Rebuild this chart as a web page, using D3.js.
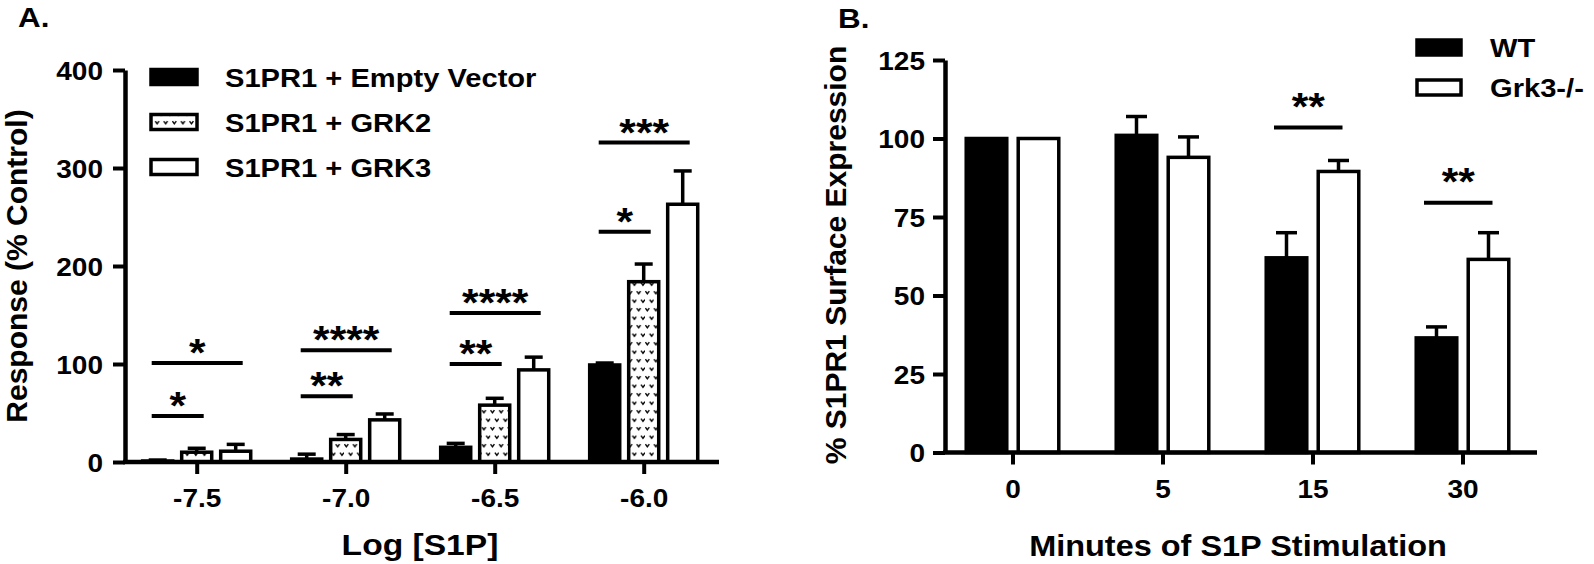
<!DOCTYPE html>
<html>
<head>
<meta charset="utf-8">
<script src="https://cdn.jsdelivr.net/npm/d3@7"></script>
<style>
html,body{margin:0;padding:0;background:#fff;}
svg{display:block;}
</style>
</head>
<body>
<svg id="chart" width="1594" height="564"></svg>
<script>
// ---------- Panel A data ----------
const catA = ["-7.5", "-7.0", "-6.5", "-6.0"];
const seriesA = ["S1PR1 + Empty Vector", "S1PR1 + GRK2", "S1PR1 + GRK3"];
const emptyMean = [1, 3, 15, 99];
const emptyErr  = [1, 5, 4, 2];
const grk2Mean  = [10, 23, 58, 184];
const grk2Err   = [4, 5, 7, 18];
const grk3Mean  = [11, 43, 94, 263];
const grk3Err   = [7, 6, 13, 34];
const yTicksA   = [0, 100, 200, 300, 400];
// significance brackets (panel A)
const sigCatA   = ["-7.5", "-7.5", "-7.0", "-7.0", "-6.5", "-6.5", "-6.0", "-6.0"];
const sigToA    = [1, 2, 1, 2, 1, 2, 1, 2];
const sigValA   = [47, 101, 67, 114, 100, 152, 235, 326];
const sigLabelA = ["*", "*", "**", "****", "**", "****", "*", "***"];

// ---------- Panel B data ----------
const catB = ["0", "5", "15", "30"];
const seriesB = ["WT", "Grk3-/-"];
const wtMean   = [100, 101, 62, 36.5];
const wtErr    = [0, 6, 8, 3.5];
const grk3Bmean = [100, 94, 89.5, 61.5];
const grk3Berr  = [0, 6.5, 3.5, 8.5];
const yTicksB   = [0, 25, 50, 75, 100, 125];
const sigCatB   = ["15", "30"];
const sigValB   = [103.5, 79.5];
const sigLabelB = ["**", "**"];

// ---------- setup ----------
const SX = 1.12; // horizontal stretch of the original typography
const svg = d3.select("#chart")
  .attr("font-family", "'Liberation Sans', Arial, Helvetica, sans-serif")
  .attr("font-weight", "bold");

const defs = svg.append("defs");
const pat = defs.append("pattern").attr("id", "dots")
  .attr("patternUnits", "userSpaceOnUse").attr("width", 8.6).attr("height", 17);
pat.append("rect").attr("width", 8.6).attr("height", 17).attr("fill", "#fff");
[[2.3, 3.5], [6.6, 12]].forEach(([cx, cy]) => {
  pat.append("path").attr("d", `M${cx-1.9},${cy-1.3}L${cx},${cy+1.4}L${cx+1.9},${cy-1.3}`)
    .attr("fill", "none").attr("stroke", "#000").attr("stroke-width", 1.4);
});

function htext(g, x, y, str, size, anchor) {
  return g.append("text")
    .attr("transform", `translate(${x},${y}) scale(${SX},1)`)
    .attr("text-anchor", anchor || "middle")
    .attr("font-size", size)
    .attr("fill", "#000")
    .text(str);
}

function styleAxis(g, sw) {
  g.selectAll("path.domain").attr("stroke", "#000").attr("stroke-width", sw);
  g.selectAll(".tick line").attr("stroke", "#000").attr("stroke-width", 4);
}

// ================= PANEL A =================
const gA = svg.append("g");
const xA = d3.scalePoint().domain(catA).range([196.7, 643.7]);
const yA = d3.scaleLinear().domain([0, 400]).range([462, 70]);
const innerA = d3.scaleBand().domain(seriesA).range([-58.5, 58.5]).paddingInner(0.23).paddingOuter(0.115);
const fillsA = ["#000", "url(#dots)", "#fff"];
const meansA = [emptyMean, grk2Mean, grk3Mean];
const errsA = [emptyErr, grk2Err, grk3Err];
const bwA = innerA.bandwidth();

seriesA.forEach((s, si) => {
  catA.forEach((c, ci) => {
    const m = meansA[si][ci], e = errsA[si][ci];
    const x0 = xA(c) + innerA(s);
    const cx = x0 + bwA / 2;
    // error bar (upper only)
    gA.append("line").attr("x1", cx).attr("x2", cx)
      .attr("y1", yA(m)).attr("y2", yA(m + e))
      .attr("stroke", "#000").attr("stroke-width", 3.5);
    gA.append("line").attr("x1", cx - 9).attr("x2", cx + 9)
      .attr("y1", yA(m + e)).attr("y2", yA(m + e))
      .attr("stroke", "#000").attr("stroke-width", 3.5);
    gA.append("rect").attr("x", x0).attr("y", yA(m))
      .attr("width", bwA).attr("height", Math.max(0, yA(0) - yA(m)))
      .attr("fill", fillsA[si]).attr("stroke", "#000").attr("stroke-width", 3.5);
  });
});

// y axis
const yAxA = gA.append("g").attr("transform", "translate(125,0)")
  .call(d3.axisLeft(yA).tickValues(yTicksA).tickSize(12).tickSizeOuter(0).tickFormat(d3.format("d")));
styleAxis(yAxA, 4.5);
yAxA.selectAll(".tick text").attr("font-size", 25).attr("fill", "#000")
  .attr("font-family", null)
  .attr("transform", `scale(${SX},1)`).attr("x", -22 / SX).attr("dy", null).attr("y", 9);

// x baseline + axis ticks
gA.append("line").attr("x1", 123).attr("x2", 719).attr("y1", yA(0)).attr("y2", yA(0))
  .attr("stroke", "#000").attr("stroke-width", 4.5);
const xAxA = gA.append("g").attr("transform", `translate(0,${yA(0)})`)
  .call(d3.axisBottom(xA).tickSize(12).tickSizeOuter(0));
xAxA.select("path.domain").remove();
styleAxis(xAxA, 4.5);
xAxA.selectAll(".tick text").attr("font-size", 25).attr("fill", "#000")
  .attr("font-family", null)
  .attr("transform", `scale(${SX},1)`).attr("dy", null).attr("y", 45);

// significance
sigCatA.forEach((c, i) => {
  const xs = xA(c) + innerA(seriesA[0]) + bwA / 2 - 6;
  const xe = xA(c) + innerA(seriesA[sigToA[i]]) + bwA / 2 + 7;
  const yy = yA(sigValA[i]);
  gA.append("line").attr("x1", xs).attr("x2", xe).attr("y1", yy).attr("y2", yy)
    .attr("stroke", "#000").attr("stroke-width", 4);
  htext(gA, (xs + xe) / 2, yy + 3, sigLabelA[i], 38, "middle");
});

// legend A
const legRowsA = [77, 122, 167];
seriesA.forEach((s, i) => {
  gA.append("rect").attr("x", 151).attr("y", legRowsA[i] - 7.5).attr("width", 46).attr("height", 15)
    .attr("fill", fillsA[i]).attr("stroke", "#000").attr("stroke-width", 3.5);
  htext(gA, 225, legRowsA[i] + 9.5, s, 26, "start");
});

// titles A
htext(gA, 18, 27, "A.", 28, "start");
htext(gA, 420, 555, "Log [S1P]", 30, "middle");
gA.append("text").attr("transform", "translate(27,266) rotate(-90)")
  .attr("text-anchor", "middle").attr("font-size", 30).text("Response (% Control)");

// ================= PANEL B =================
const gB = svg.append("g");
const xB = d3.scalePoint().domain(catB).range([1012.5, 1462.5]);
const yB = d3.scaleLinear().domain([0, 125]).range([452.5, 60]);
const innerB = d3.scaleBand().domain(seriesB).range([-52, 52]).paddingInner(0.22).paddingOuter(0.11);
const fillsB = ["#000", "#fff"];
const meansB = [wtMean, grk3Bmean];
const errsB = [wtErr, grk3Berr];
const bwB = innerB.bandwidth();

seriesB.forEach((s, si) => {
  catB.forEach((c, ci) => {
    const m = meansB[si][ci], e = errsB[si][ci];
    const x0 = xB(c) + innerB(s);
    const cx = x0 + bwB / 2;
    if (e > 0) {
      gB.append("line").attr("x1", cx).attr("x2", cx)
        .attr("y1", yB(m)).attr("y2", yB(m + e))
        .attr("stroke", "#000").attr("stroke-width", 3.5);
      gB.append("line").attr("x1", cx - 10.5).attr("x2", cx + 10.5)
        .attr("y1", yB(m + e)).attr("y2", yB(m + e))
        .attr("stroke", "#000").attr("stroke-width", 3.5);
    }
    gB.append("rect").attr("x", x0).attr("y", yB(m))
      .attr("width", bwB).attr("height", Math.max(0, yB(0) - yB(m)))
      .attr("fill", fillsB[si]).attr("stroke", "#000").attr("stroke-width", 3.5);
  });
});

const yAxB = gB.append("g").attr("transform", "translate(945,0)")
  .call(d3.axisLeft(yB).tickValues(yTicksB).tickSize(12).tickSizeOuter(0).tickFormat(d3.format("d")));
styleAxis(yAxB, 4.5);
yAxB.selectAll(".tick text").attr("font-size", 25).attr("fill", "#000")
  .attr("font-family", null)
  .attr("transform", `scale(${SX},1)`).attr("x", -20 / SX).attr("dy", null).attr("y", 9);

gB.append("line").attr("x1", 943).attr("x2", 1537).attr("y1", yB(0)).attr("y2", yB(0))
  .attr("stroke", "#000").attr("stroke-width", 4.5);
const xAxB = gB.append("g").attr("transform", `translate(0,${yB(0)})`)
  .call(d3.axisBottom(xB).tickSize(12).tickSizeOuter(0));
xAxB.select("path.domain").remove();
styleAxis(xAxB, 4.5);
xAxB.selectAll(".tick text").attr("font-size", 25).attr("fill", "#000")
  .attr("font-family", null)
  .attr("transform", `scale(${SX},1)`).attr("dy", null).attr("y", 46);

sigCatB.forEach((c, i) => {
  const xs = xB(c) + innerB(seriesB[0]) + bwB / 2 - 12.5;
  const xe = xB(c) + innerB(seriesB[1]) + bwB / 2 + 4;
  const yy = yB(sigValB[i]);
  gB.append("line").attr("x1", xs).attr("x2", xe).attr("y1", yy).attr("y2", yy)
    .attr("stroke", "#000").attr("stroke-width", 4);
  htext(gB, (xs + xe) / 2, yy - 7.5, sigLabelB[i], 38, "middle");
});

const legRowsB = [47.5, 87.5];
seriesB.forEach((s, i) => {
  gB.append("rect").attr("x", 1417).attr("y", legRowsB[i] - 7.5).attr("width", 44).attr("height", 15)
    .attr("fill", fillsB[i]).attr("stroke", "#000").attr("stroke-width", 3.5);
  htext(gB, 1490, legRowsB[i] + 9.5, s, 26, "start");
});

htext(gB, 838, 28, "B.", 28, "start");
htext(gB, 1238, 556, "Minutes of S1P Stimulation", 29, "middle");
gB.append("text").attr("transform", "translate(846,255) rotate(-90)")
  .attr("text-anchor", "middle").attr("font-size", 30).text("% S1PR1 Surface Expression");
</script>
</body>
</html>
